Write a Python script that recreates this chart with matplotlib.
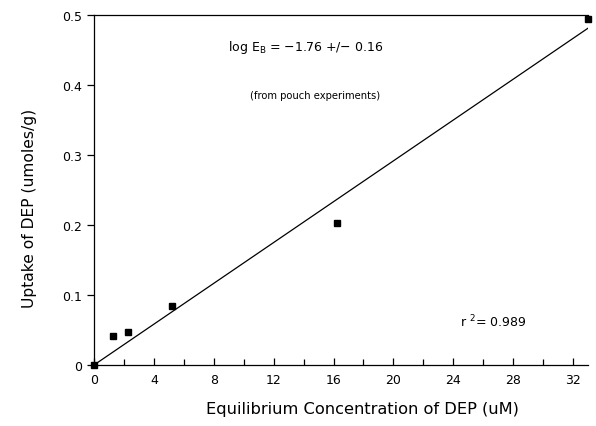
import numpy as np
import matplotlib
matplotlib.use("Agg")
import matplotlib.pyplot as plt

# data points
conc = [0.0, 1.3, 2.3, 5.2, 16.2, 33.0]
uptake = [0.0, 0.041, 0.047, 0.084, 0.203, 0.494]
slope = 0.01458
x_ticks = [0, 4, 8, 12, 16, 20, 24, 28, 32]
y_ticks = [0, 0.1, 0.2, 0.3, 0.4, 0.5]
y_tick_labels = ["0", "0.1", "0.2", "0.3", "0.4", "0.5"]

fig = plt.figure(figsize=(5.96, 4.27), dpi=100)
ax = fig.add_axes([94 / 596, 1 - 366 / 427, 494 / 596, 350 / 427])

xs = np.array([0, 33.0])
ax.plot(xs, slope * xs, color="black", lw=0.9)
ax.plot(conc, uptake, "s", color="black", ms=5, clip_on=False)

ax.set_xlim(0, 33)
ax.set_ylim(0, 0.5)
ax.set_xticks(x_ticks)
ax.set_xticks(np.arange(2, 33, 4), minor=True)
ax.set_yticks(y_ticks)
ax.set_yticklabels(y_tick_labels)
ax.tick_params(axis="x", direction="in", length=5, width=0.9, labelsize=9, pad=6)
ax.tick_params(axis="x", which="minor", direction="in", length=4, width=0.9)
ax.tick_params(axis="y", direction="out", length=5, width=0.9, labelsize=9)
ax.spines["right"].set_visible(False)
for s in ["left", "bottom", "top"]:
    ax.spines[s].set_linewidth(0.9)

ax.set_xlabel("Equilibrium Concentration of DEP (uM)", fontsize=11.7)
ax.set_ylabel("Uptake of DEP (umoles/g)", fontsize=11.2)
ax.xaxis.set_label_coords(0.543, -0.103)
ax.yaxis.set_label_coords(-0.115, 0.451)

ax.text(0.271, 0.911, r"log E$_{\mathrm{B}}$ = $-$1.76 +/$-$ 0.16", fontsize=9,
        transform=ax.transAxes, va="center")
ax.text(0.316, 0.771, "(from pouch experiments)", fontsize=7.2,
        transform=ax.transAxes, va="center")
ax.text(0.741, 0.125, r"r $^{\mathrm{2}}$= 0.989", fontsize=9,
        transform=ax.transAxes, va="center")

fig.savefig("out.png", dpi=100)
